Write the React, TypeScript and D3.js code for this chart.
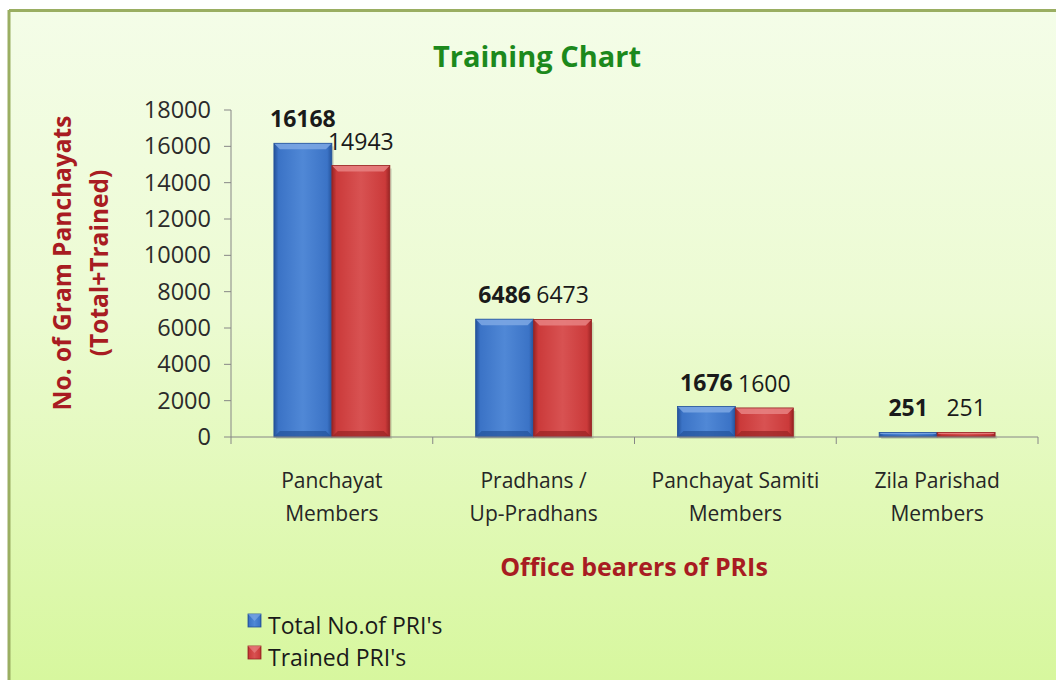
import React from "react";
import * as d3 from "d3";

const categories = [
  ["Panchayat", "Members"],
  ["Pradhans /", "Up-Pradhans"],
  ["Panchayat Samiti", "Members"],
  ["Zila Parishad", "Members"],
];
const seriesNames = ["Total No.of PRI's", "Trained PRI's"];
const totalValues = [16168, 6486, 1676, 251];
const trainedValues = [14943, 6473, 1600, 251];
const yTicks = [0, 2000, 4000, 6000, 8000, 10000, 12000, 14000, 16000, 18000];

const W = 1056;
const H = 680;
const FONT = "'Open Sans', 'DejaVu Sans', sans-serif";

const palettes = [
  { base: "#3b73c6", light: "#5088d6", dark: "#24529a", top: "#7ea8e4" },
  { base: "#cb3a3a", light: "#d85252", dark: "#982424", top: "#e88282" },
];

export default function App() {
  const left = 231, right = 1038, top = 110, bottom = 437;
  const x = d3.scaleBand<number>().domain(d3.range(categories.length)).range([left, right]).padding(0);
  const xs = d3.scaleBand<number>().domain([0, 1]).range([0, x.bandwidth()]).paddingInner(0).paddingOuter(0.74);
  const y = d3.scaleLinear().domain([0, 18000]).range([bottom, top]);
  const series = [totalValues, trainedValues];

  React.useEffect(() => {
    document.body.style.margin = "0";
  }, []);

  return (
    <svg width={W} height={H} style={{ display: "block", position: "absolute", left: 0, top: 0 }} fontFamily={FONT}>
      <defs>
        <linearGradient id="bg" x1="0" y1="0" x2="0" y2="1">
          <stop offset="0" stopColor="#f4fde8" />
          <stop offset="0.45" stopColor="#ecfbd2" />
          <stop offset="1" stopColor="#d7f79e" />
        </linearGradient>
        {palettes.map((p, i) => (
          <linearGradient key={i} id={`bar${i}`} x1="0" y1="0" x2="1" y2="0">
            <stop offset="0" stopColor={p.dark} />
            <stop offset="0.08" stopColor={p.base} />
            <stop offset="0.5" stopColor={p.light} />
            <stop offset="0.92" stopColor={p.base} />
            <stop offset="1" stopColor={p.dark} />
          </linearGradient>
        ))}
      </defs>
      <rect x={0} y={0} width={W} height={H} fill="#ffffff" />
      <rect x={9} y={11} width={W - 9} height={H - 11} fill="url(#bg)" />
      <line x1={9} y1={10.5} x2={W} y2={10.5} stroke="#9aae62" strokeWidth={3} />
      <line x1={9} y1={10} x2={9} y2={H} stroke="#9aae62" strokeWidth={3} />

      <text x={537} y={67} textAnchor="middle" fontSize={29} fontWeight="bold" fill="#1c891c">
        Training Chart
      </text>

      {/* y axis */}
      <line x1={left} y1={top} x2={left} y2={bottom} stroke="#868686" strokeWidth={1} />
      {yTicks.map((t) => (
        <g key={t}>
          <line x1={left - 7} x2={left} y1={y(t)} y2={y(t)} stroke="#868686" />
          <text x={left - 20} y={y(t) + 8} textAnchor="end" fontSize={23.5} fill="#2b2b2b">
            {t}
          </text>
        </g>
      ))}

      {/* bars */}
      {categories.map((_, ci) =>
        series.map((vals, si) => {
          const p = palettes[si];
          const bx = x(ci)! + xs(si)!;
          const bw = xs.bandwidth();
          const by = y(vals[ci]);
          const bh = bottom - by;
          const bev = Math.min(6, bh / 3);
          return (
            <g key={`${ci}-${si}`}>
              <rect x={bx + 2} y={by + 3} width={bw} height={bh - 1} fill="#000" opacity={0.12} />
              <rect x={bx} y={by} width={bw} height={bh} fill={`url(#bar${si})`} />
              <polygon
                points={`${bx},${by} ${bx + bw},${by} ${bx + bw - bev},${by + bev} ${bx + bev},${by + bev}`}
                fill={p.top}
                opacity={0.85}
              />
              <polygon
                points={`${bx},${by + bh} ${bx + bw},${by + bh} ${bx + bw - bev},${by + bh - bev} ${bx + bev},${by + bh - bev}`}
                fill={p.dark}
                opacity={0.7}
              />
              <rect x={bx} y={by} width={bw} height={bh} fill="none" stroke={p.dark} strokeWidth={0.8} />
            </g>
          );
        })
      )}

      {/* x axis */}
      <line x1={left} y1={bottom} x2={right} y2={bottom} stroke="#868686" />
      {d3.range(categories.length + 1).map((i) => {
        const tx = i < categories.length ? x(i)! : right;
        return <line key={i} x1={tx} x2={tx} y1={bottom} y2={bottom + 7} stroke="#868686" />;
      })}
      {categories.map((lines, ci) => (
        <text key={ci} textAnchor="middle" fontSize={21} fill="#262626">
          {lines.map((l, li) => (
            <tspan key={li} x={x(ci)! + x.bandwidth() / 2} y={488 + li * 33}>
              {l}
            </tspan>
          ))}
        </text>
      ))}

      {/* value labels */}
      {categories.map((_, ci) =>
        series.map((vals, si) => {
          const cx = x(ci)! + xs(si)! + xs.bandwidth() / 2;
          return (
            <text
              key={`l${ci}-${si}`}
              x={cx}
              y={y(vals[ci]) - 16}
              textAnchor="middle"
              fontSize={23}
              fontWeight={si === 0 ? "bold" : "normal"}
              fill="#1a1a1a"
            >
              {vals[ci]}
            </text>
          );
        })
      )}

      {/* axis titles */}
      <text
        transform={`translate(71,${263}) rotate(-90)`}
        textAnchor="middle"
        fontSize={24.5}
        fontWeight="bold"
        fill="#a81c22"
      >
        No. of Gram Panchayats
      </text>
      <text
        transform={`translate(108,${263}) rotate(-90)`}
        textAnchor="middle"
        fontSize={24.5}
        fontWeight="bold"
        fill="#a81c22"
      >
        (Total+Trained)
      </text>
      <text x={634} y={576} textAnchor="middle" fontSize={25} fontWeight="bold" fill="#a81c22">
        Office bearers of PRIs
      </text>

      {/* legend */}
      {seriesNames.map((n, i) => (
        <g key={n}>
          <rect x={248} y={614 + i * 32} width={13} height={13} fill={`url(#bar${i})`} stroke={palettes[i].dark} strokeWidth={0.8} />
          <polygon
            points={`${248},${614 + i * 32} ${261},${614 + i * 32} ${254.5},${621 + i * 32}`}
            fill={palettes[i].top}
            opacity={0.7}
          />
          <text x={268} y={634 + i * 32} fontSize={23} fill="#1a1a1a">
            {n}
          </text>
        </g>
      ))}
    </svg>
  );
}
